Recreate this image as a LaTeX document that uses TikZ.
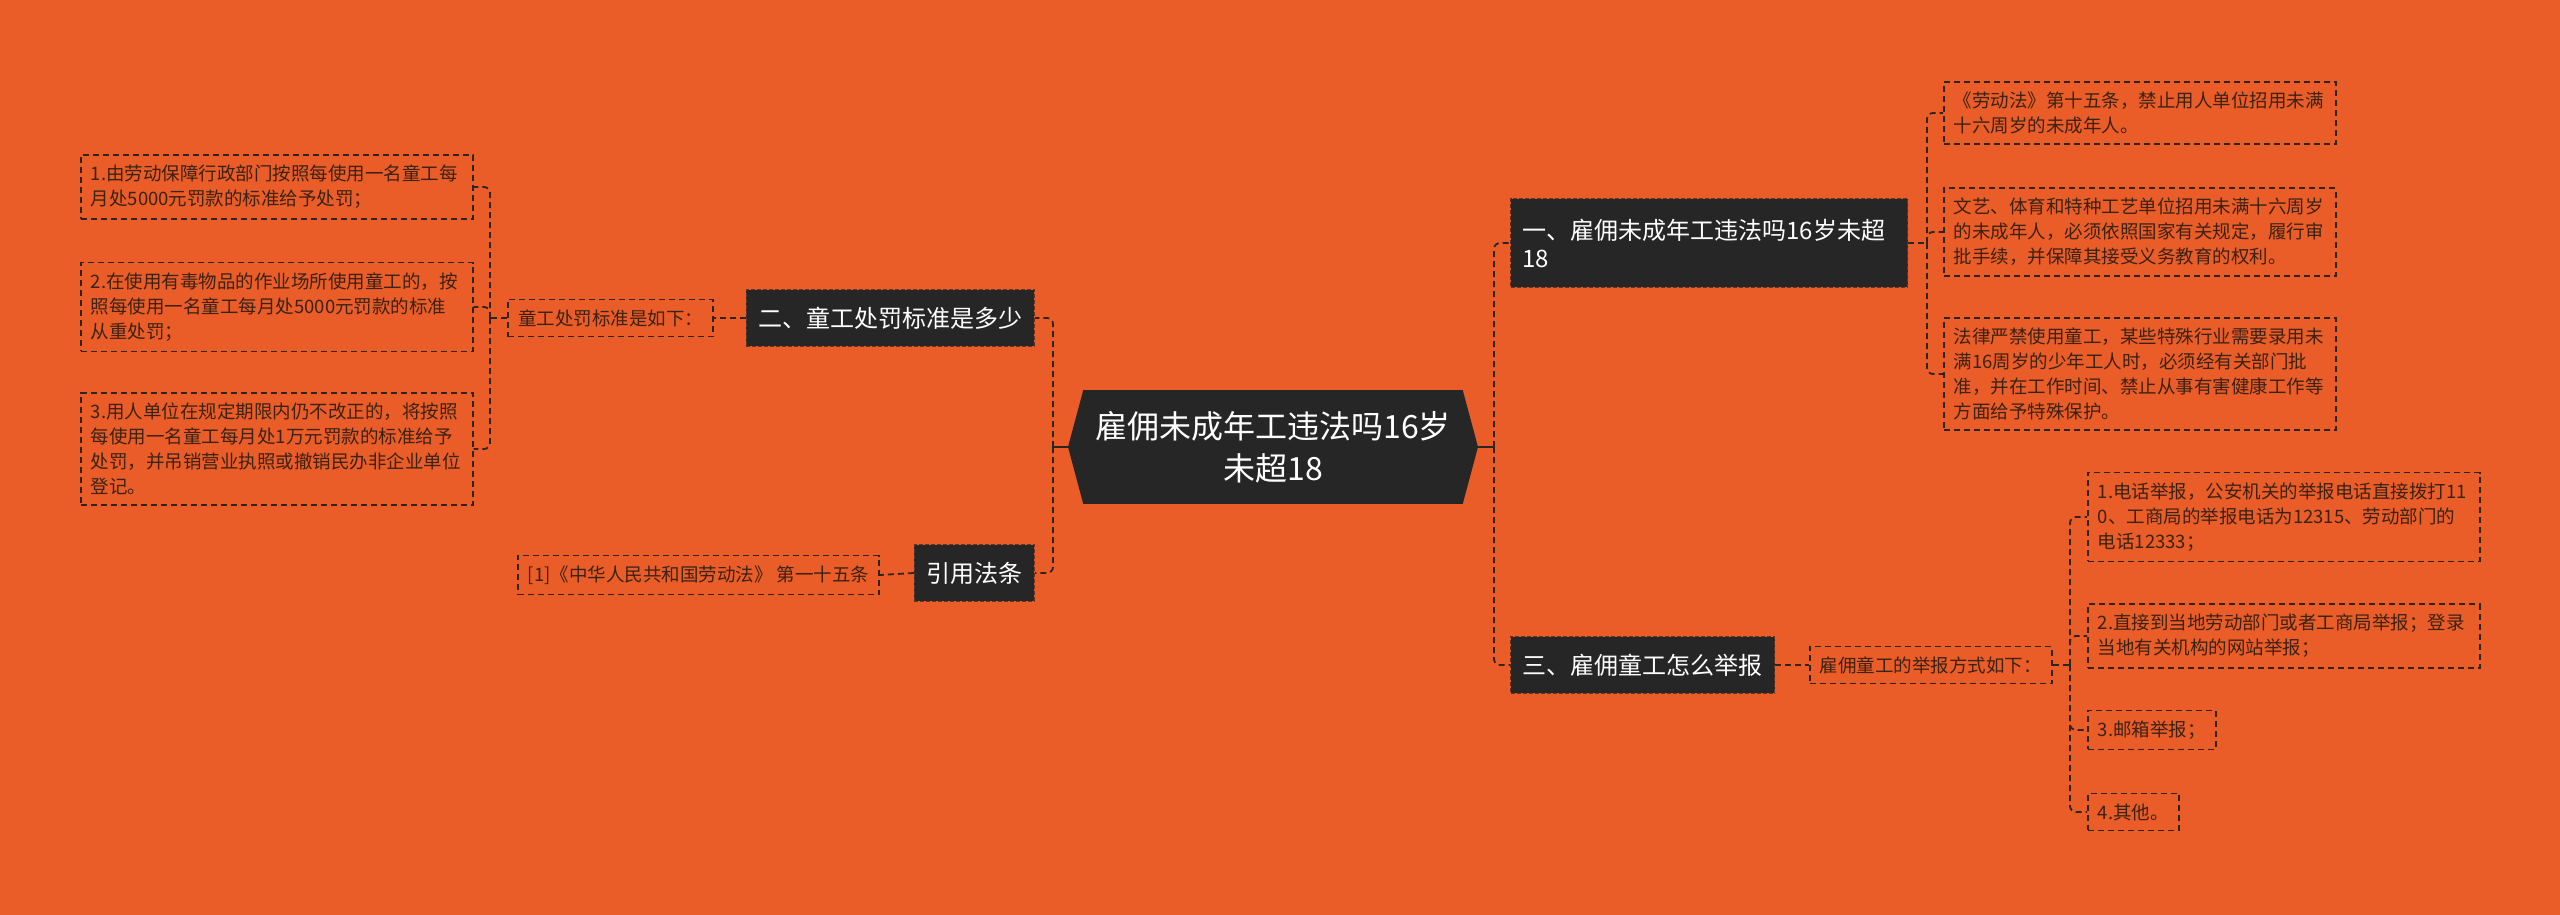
\documentclass[tikz,border=0pt]{standalone}
\usepackage{fontspec}
\newfontfamily\cjkfont{Noto Sans CJK SC}
\usetikzlibrary{shapes.symbols}
\definecolor{bgorange}{HTML}{EA5D28}
\definecolor{nodedark}{HTML}{262626}
\definecolor{leafink}{HTML}{3A2216}
\definecolor{linkink}{HTML}{2E2420}

\begin{document}
\begin{tikzpicture}[x=0.5pt,y=-0.5pt,
  link/.style={draw=linkink, line width=0.9pt, dash pattern=on 3pt off 2pt, rounded corners=3pt},
  stem/.style={draw=linkink, line width=0.9pt},
  topic/.style={fill=nodedark, draw=nodedark!70!bgorange, line width=0.6pt, dash pattern=on 2pt off 1pt,
    text=white, font=\cjkfont\fontsize{12pt}{14pt}\selectfont, inner xsep=6pt, inner ysep=8.5pt},
  leaf/.style={draw=linkink, line width=0.8pt, dash pattern=on 3pt off 2pt, text=leafink,
    font=\cjkfont\fontsize{9.25pt}{12.5pt}\selectfont, inner xsep=5pt, inner ysep=5pt},
  wideleaf/.style={leaf, text width=186pt, align=left}]
  \fill[bgorange] (0,0) rectangle (2560,915);

  % central topic
  \node[shape=signal, signal to=west and east, signal pointer angle=150, fill=nodedark, text=white,
    align=center, font=\cjkfont\fontsize{16pt}{21pt}\selectfont, inner xsep=6pt, inner ysep=10.5pt]
    (center) at (1273,447) {雇佣未成年工违法吗16岁\\未超18};

  % main branches
  \node[topic, anchor=east] (penalty) at (1035,318) {二、童工处罚标准是多少};
  \node[topic, anchor=east] (cite) at (1035,573) {引用法条};
  \node[topic, anchor=west, text width=186.5pt, align=left, inner ysep=10pt] (illegal) at (1510,243) {一、雇佣未成年工违法吗16岁未超\\18};
  \node[topic, anchor=west] (report) at (1510,665) {三、雇佣童工怎么举报};

  % left side
  \node[leaf, anchor=east] (penaltysum) at (714,318) {童工处罚标准是如下：};
  \node[wideleaf, anchor=west] (pen1) at (80,187) {1.由劳动保障行政部门按照每使用一名童工每\\月处5000元罚款的标准给予处罚；};
  \node[wideleaf, anchor=west] (pen2) at (80,307) {2.在使用有毒物品的作业场所使用童工的，按\\照每使用一名童工每月处5000元罚款的标准\\从重处罚；};
  \node[wideleaf, anchor=west] (pen3) at (80,449) {3.用人单位在规定期限内仍不改正的，将按照\\每使用一名童工每月处1万元罚款的标准给予\\处罚，并吊销营业执照或撤销民办非企业单位\\登记。};
  \node[leaf, anchor=east] (citeleaf) at (880,575) {[1]《中华人民共和国劳动法》 第一十五条};

  % right side
  \node[wideleaf, anchor=west] (law1) at (1943,113) {《劳动法》第十五条，禁止用人单位招用未满\\十六周岁的未成年人。};
  \node[wideleaf, anchor=west] (law2) at (1943,232) {文艺、体育和特种工艺单位招用未满十六周岁\\的未成年人，必须依照国家有关规定，履行审\\批手续，并保障其接受义务教育的权利。};
  \node[wideleaf, anchor=west] (law3) at (1943,374) {法律严禁使用童工，某些特殊行业需要录用未\\满16周岁的少年工人时，必须经有关部门批\\准，并在工作时间、禁止从事有害健康工作等\\方面给予特殊保护。};
  \node[leaf, anchor=west] (reportsum) at (1809,665) {雇佣童工的举报方式如下：};
  \node[wideleaf, anchor=west] (way1) at (2087,517) {1.电话举报，公安机关的举报电话直接拨打11\\0、工商局的举报电话为12315、劳动部门的\\电话12333；};
  \node[wideleaf, anchor=west] (way2) at (2087,636) {2.直接到当地劳动部门或者工商局举报；登录\\当地有关机构的网站举报；};
  \node[leaf, anchor=west] (way3) at (2087,730) {3.邮箱举报；};
  \node[leaf, anchor=west] (way4) at (2087,812) {4.其他。};

  % joints
  \coordinate (ljoint) at (1053,447);
  \coordinate (rjoint) at (1494,447);
  \coordinate (penjoint) at (490,318);
  \coordinate (lawjoint) at (1927,243);
  \coordinate (wayjoint) at (2070,665);

  % connectors
  \draw[stem] (center.west) -- (ljoint);
  \draw[stem] (center.east) -- (rjoint);
  \draw[link] (ljoint) |- (penalty.east);
  \draw[link] (ljoint) |- (cite.east);
  \draw[link] (rjoint) |- (illegal.west);
  \draw[link] (rjoint) |- (report.west);
  \draw[link] (penalty.west) -- (penaltysum.east);
  \draw[link] (cite.west) -- (citeleaf.east);
  \draw[link] (report.east) -- (reportsum.west);
  \draw[link] (penaltysum.west) -- (penjoint);
  \foreach \k in {pen1,pen2,pen3} \draw[link] (penjoint) |- (\k.east);
  \draw[link] (illegal.east) -- (lawjoint);
  \foreach \k in {law1,law2,law3} \draw[link] (lawjoint) |- (\k.west);
  \draw[link] (reportsum.east) -- (wayjoint);
  \foreach \k in {way1,way2,way3,way4} \draw[link] (wayjoint) |- (\k.west);
\end{tikzpicture}
\end{document}
